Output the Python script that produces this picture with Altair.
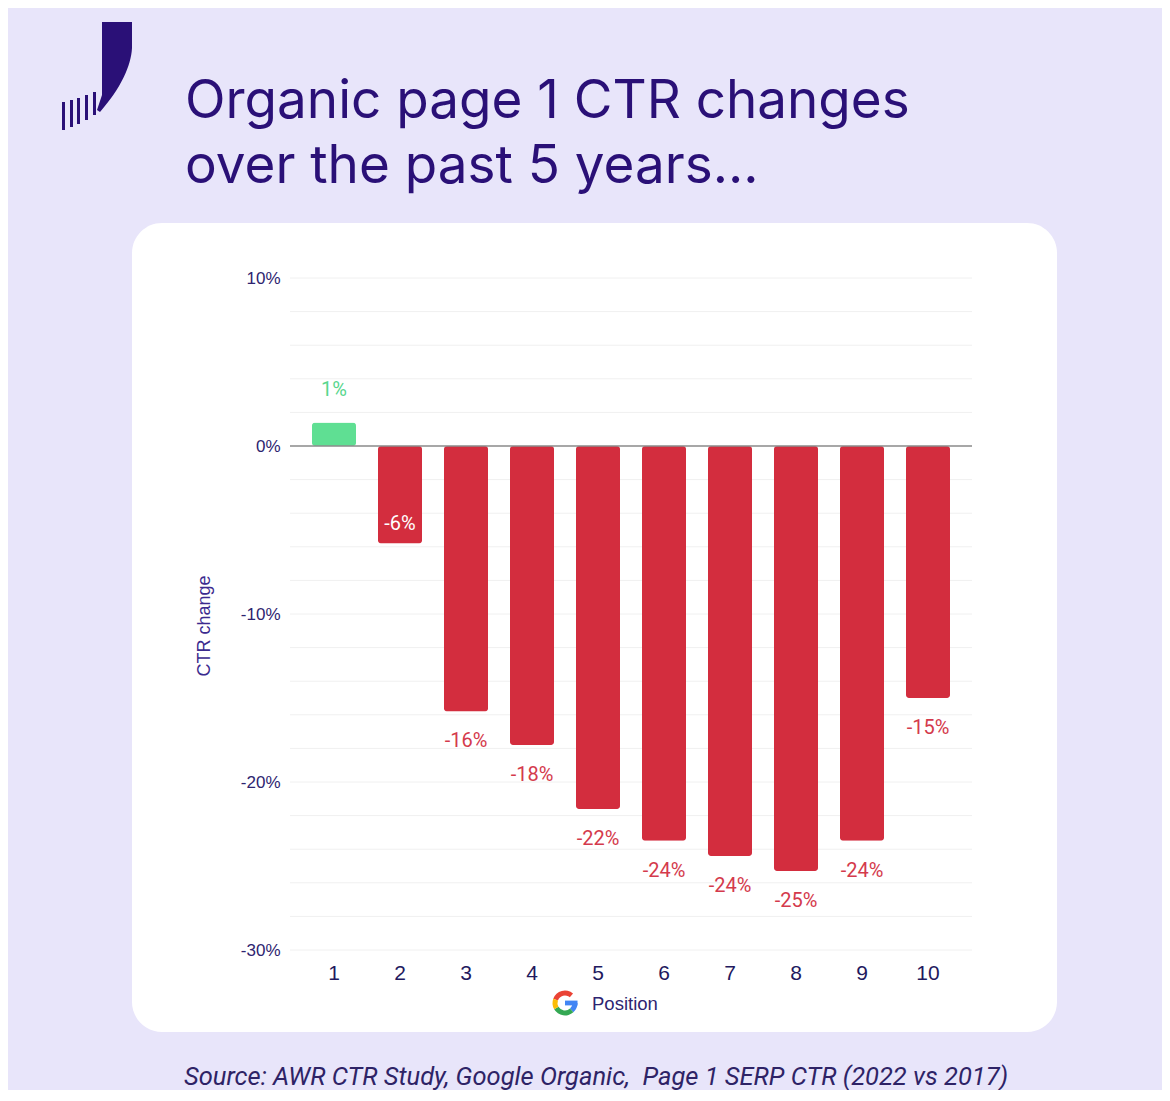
import altair as alt
import pandas as pd

# ---------------- data ----------------
positions = [1, 2, 3, 4, 5, 6, 7, 8, 9, 10]
ctr_change = [1.4, -5.8, -15.8, -17.8, -21.6, -23.5, -24.4, -25.3, -23.5, -15.0]
bar_labels = ["1%", "-6%", "-16%", "-18%", "-22%", "-24%", "-24%", "-25%", "-24%", "-15%"]
y_label_values = [-30, -20, -10, 0, 10]
grid_values = [-30, -28, -26, -24, -22, -20, -18, -16, -14, -12, -10, -8, -6, -4, -2,
               0, 2, 4, 6, 8, 10]

title_lines = ["Organic page 1 CTR changes", "over the past 5 years..."]
y_title = "CTR change"
x_title = "Position"
source_text = "Source: AWR CTR Study, Google Organic,\u00a0\u00a0Page 1 SERP CTR (2022 vs 2017)"

df = pd.DataFrame({"pos": positions, "ctr": ctr_change, "label": bar_labels})
grid_df = pd.DataFrame({"ctr": grid_values})
zero_df = pd.DataFrame({"ctr": [0]})
one = alt.Data(values=[{"a": 1}])

# ---------------- style ----------------
BG = "#e8e5fa"
INK = "#2a1077"
AXIS_INK = "#2e2470"
RED = "#d32d3e"
RED_TXT = "#d43a4c"
GREEN = "#5fdf93"
GREEN_TXT = "#58d68d"

W, H = 682, 672
yscale = alt.Scale(domain=[-30, 10], nice=False, zero=False)
xscale = alt.Scale(paddingInner=1 / 3, paddingOuter=1 / 3)

Y_AXIS = alt.Axis(values=y_label_values, grid=False, domain=False, ticks=False,
                  labelExpr="datum.value + '%'", labelFont="Liberation Sans",
                  labelFontSize=17, labelColor=AXIS_INK, labelPadding=10, zindex=2)
X_AXIS = alt.Axis(labelAngle=0, domain=False, ticks=False, labelFont="Liberation Sans",
                  labelFontSize=21, labelColor="#22195e", labelPadding=12, zindex=2)


def yenc():
    return alt.Y("ctr:Q", scale=yscale, title=None, axis=Y_AXIS)


def xenc():
    return alt.X("pos:O", scale=xscale, title=None, axis=X_AXIS)


# ---------------- decorations ----------------
card = alt.Chart(one).mark_rect(cornerRadius=30, fill="white").encode(
    x=alt.value(-158), x2=alt.value(767), y=alt.value(-55), y2=alt.value(754)
)

logo_path = (
    "M5,-54 L35,-54 L35,-28 C34,-10 24,12 3,36 L0,34 L5,19 Z "
    "M-35,26 L-32,26 L-32,54 L-35,54 Z "
    "M-27,24 L-24,24 L-24,51 L-27,51 Z "
    "M-20,22 L-17,22 L-17,48 L-20,48 Z "
    "M-12,19 L-9,19 L-9,44 L-12,44 Z "
    "M-4,16 L-1,16 L-1,39 L-4,39 Z"
)
logo = alt.Chart(one).mark_point(
    shape=logo_path, size=4, filled=True, fill=INK, strokeWidth=0, opacity=1
).encode(x=alt.value(-193), y=alt.value(-202))

title1 = alt.Chart(one).mark_text(
    font="Inter", fontSize=53, color=INK, align="left", baseline="alphabetic"
).encode(x=alt.value(-105), y=alt.value(-160), text=alt.value(title_lines[0]))
title2 = alt.Chart(one).mark_text(
    font="Inter", fontSize=53, color=INK, align="left", baseline="alphabetic"
).encode(x=alt.value(-105), y=alt.value(-95), text=alt.value(title_lines[1]))

source = alt.Chart(one).mark_text(
    font="Roboto", fontSize=25.5, fontStyle="italic", color="#2e2366",
    align="left", baseline="middle"
).encode(x=alt.value(-106), y=alt.value(799), text=alt.value(source_text))

ytitle = alt.Chart(one).mark_text(
    font="Liberation Sans", fontSize=18, color="#3b2a8e", angle=270,
    align="center", baseline="middle"
).encode(x=alt.value(-85), y=alt.value(348), text=alt.value(y_title))

xtitle = alt.Chart(one).mark_text(
    font="Liberation Sans", fontSize=18.5, color="#2e2470", align="left", baseline="middle"
).encode(x=alt.value(302), y=alt.value(726), text=alt.value(x_title))

# Google "G" icon from arcs
deg = 3.14159265 / 180
gx, gy, ro, ri = 275, 725, 12.5, 7.5
g_parts = []
for t1, t2, col in [(290, 400, "#ea4335"), (90, 138, "#4285f4"),
                    (138, 240, "#34a853"), (240, 290, "#fbbc05")]:
    g_parts.append(
        alt.Chart(one).mark_arc(
            x=gx, y=gy, radius=ro, radius2=ri, theta=t1 * deg, theta2=t2 * deg
        ).encode(color=alt.value(col))
    )
g_bar = alt.Chart(one).mark_rect().encode(
    x=alt.value(gx), x2=alt.value(gx + ro), y=alt.value(gy - 2.4), y2=alt.value(gy + 2.4),
    color=alt.value("#4285f4")
)

# ---------------- chart ----------------
grid = alt.Chart(grid_df).mark_rule(color="#f0f0f0", strokeWidth=1).encode(y=yenc())

bars = alt.Chart(df).mark_bar(cornerRadius=3).encode(
    x=xenc(),
    y=yenc(),
    color=alt.condition("datum.ctr > 0", alt.value(GREEN), alt.value(RED)),
)

zero = alt.Chart(zero_df).mark_rule(color="#8c8c8c", strokeWidth=1.5).encode(y=yenc())


def lbl(filt, dy, color):
    return alt.Chart(df).transform_filter(filt).mark_text(
        font="Roboto", fontSize=20, dy=dy, color=color, baseline="middle"
    ).encode(x=xenc(), y=yenc(), text="label:N")


lab_above = lbl("datum.ctr > 0", -32, GREEN_TXT)
lab_inside = lbl("datum.ctr < 0 && datum.ctr > -10", -19, "white")
lab_below = lbl("datum.ctr <= -10", 30, RED_TXT)

chart = alt.layer(
    card, logo, title1, title2, source, grid, bars, zero,
    lab_above, lab_inside, lab_below, ytitle, xtitle, *g_parts, g_bar
).properties(
    width=W, height=H,
    autosize=alt.AutoSizeParams(type="none"),
    padding={"left": 282, "top": 270, "right": 190, "bottom": 140},
).configure(background=BG).configure_view(stroke=None)

chart.save("out.html", embed_options={"renderer": "svg", "actions": False})
